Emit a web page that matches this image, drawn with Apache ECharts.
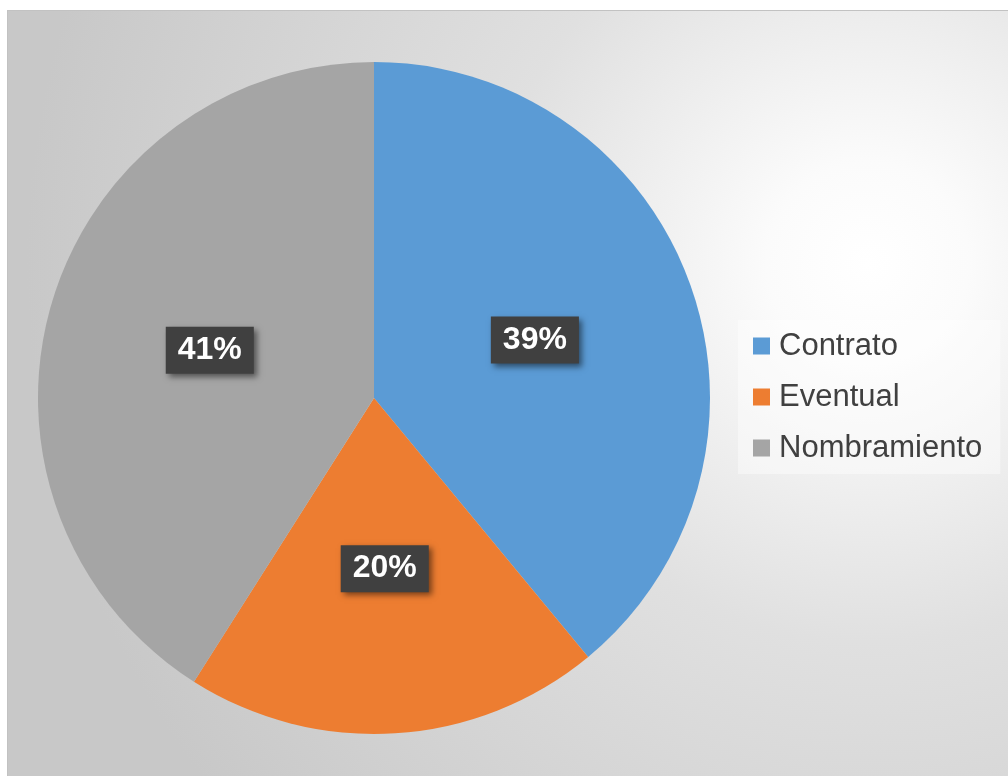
<!DOCTYPE html>
<html>
<head>
<meta charset="utf-8">
<script src="https://cdn.jsdelivr.net/npm/echarts@6/dist/echarts.min.js"></script>
<style>
  html, body { margin: 0; padding: 0; background: #ffffff; }
  #frame {
    position: absolute; left: 7px; top: 10px;
    width: 1001px; height: 766px;
    border-top: 1px solid #c2c2c2; border-left: 1px solid #c2c2c2;
    box-sizing: border-box;
  }
  #chart { width: 1000px; height: 765px; }
</style>
</head>
<body>
<div id="frame"><div id="chart"></div></div>
<script>
// Tipo de contratación (porcentaje)
const categories = ['Contrato', 'Eventual', 'Nombramiento'];
const values = [39, 20, 41];

const sliceColors = ['#5B9BD5', '#ED7D31', '#A5A5A5'];

const chart = echarts.init(document.getElementById('chart'), null, { renderer: 'canvas' });

chart.setOption({
  animation: false,
  backgroundColor: {
    type: 'radial', x: 0.86, y: 0.33, r: 1.1,
    colorStops: [
      { offset: 0, color: '#ffffff' },
      { offset: 0.12, color: '#fbfbfb' },
      { offset: 0.45, color: '#e0e0e0' },
      { offset: 1, color: '#c8c8c8' }
    ]
  },
  color: sliceColors,
  legend: {
    orient: 'vertical',
    left: 730,
    top: 309,
    data: categories,
    icon: 'rect',
    itemWidth: 17,
    itemHeight: 17,
    itemGap: 17,
    padding: [9, 18, 9, 15],
    backgroundColor: 'rgba(255,255,255,0.42)',
    textStyle: {
      fontFamily: '"Liberation Sans", Arial, sans-serif',
      fontSize: 31,
      lineHeight: 34,
      color: '#404040',
      padding: [0, 0, 0, 4]
    }
  },
  series: [{
    type: 'pie',
    center: [366, 387],
    radius: 336,
    startAngle: 90,
    clockwise: true,
    percentPrecision: 0,
    avoidLabelOverlap: false,
    itemStyle: { borderWidth: 0 },
    label: {
      show: true,
      position: 'inside',
      formatter: '{d}%',
      fontFamily: '"Liberation Sans", Arial, sans-serif',
      fontSize: 32,
      fontWeight: 'bold',
      color: '#ffffff',
      lineHeight: 33,
      backgroundColor: '#404040',
      padding: [7, 12, 7, 12],
      shadowColor: 'rgba(0,0,0,0.5)',
      shadowBlur: 6,
      shadowOffsetX: 3,
      shadowOffsetY: 3
    },
    labelLine: { show: false },
    emphasis: { disabled: true },
    data: categories.map((name, i) => ({ name: name, value: values[i] }))
  }]
});
</script>
</body>
</html>
